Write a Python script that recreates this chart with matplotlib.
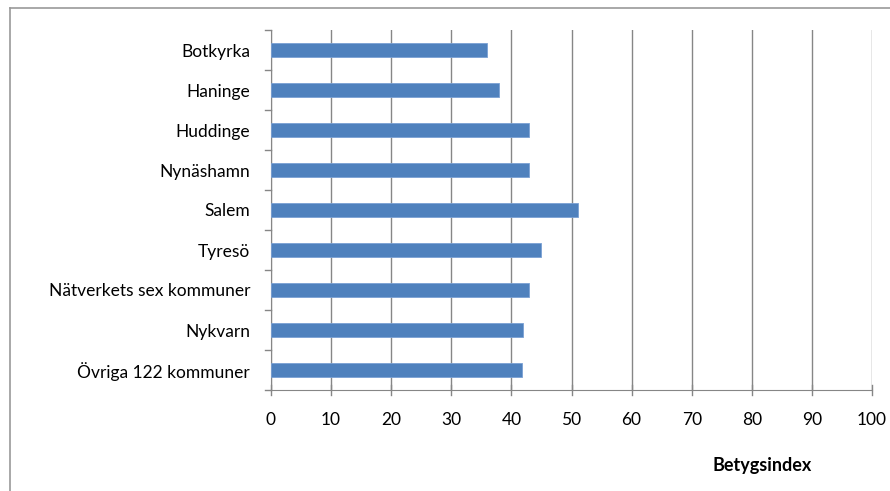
import matplotlib

matplotlib.use("Agg")
import matplotlib.pyplot as plt  # noqa: E402
from matplotlib.lines import Line2D  # noqa: E402

plt.rcParams["font.family"] = ["Lato", "DejaVu Sans"]

kommuner = [
    "Botkyrka",
    "Haninge",
    "Huddinge",
    "Nynäshamn",
    "Salem",
    "Tyresö",
    "Nätverkets sex kommuner",
    "Nykvarn",
    "Övriga 122 kommuner",
]
betyg = [36, 38, 43, 43, 51, 45, 43, 42, 41.7]
xticks = list(range(0, 101, 10))

BAR = "#4f81bd"
GRID = "#868686"

fig = plt.figure(figsize=(8.9, 4.91), dpi=100)
ax = fig.add_axes([271 / 890, 1 - 390 / 491, (872 - 271) / 890, 360 / 491])

ypos = list(range(len(kommuner)))
ax.barh(ypos, betyg, height=0.37, color=BAR, edgecolor="#7aa0d4", linewidth=0.6, zorder=3)
ax.set_ylim(len(kommuner) - 0.5, -0.5)
ax.set_xlim(0, 100)

ax.set_xticks(xticks)
ax.set_xticklabels([str(t) for t in xticks], fontsize=12.5)
ax.set_yticks(ypos)
ax.set_yticklabels(kommuner, fontsize=12.5)
ax.tick_params(axis="y", length=0, pad=15)
ax.tick_params(axis="x", length=0, pad=16)

# gridlines + x tick marks that cross the axis
ax.grid(axis="x", color=GRID, linewidth=1.0, zorder=0)
for t in xticks:
    ax.plot([t, t], [len(kommuner) - 0.5 - 0.12, len(kommuner) - 0.5 + 0.12],
            color=GRID, linewidth=1.0, clip_on=False, zorder=2)
# y tick marks at category boundaries
for b in range(len(kommuner) + 1):
    ax.plot([-1.0, 0], [b - 0.5, b - 0.5], color=GRID, linewidth=1.0, clip_on=False, zorder=2)

for side in ("top", "right"):
    ax.spines[side].set_visible(False)
ax.spines["left"].set_color(GRID)
ax.spines["bottom"].set_color(GRID)

fig.text(762 / 890, 1 - 465 / 491, "Betygsindex", fontsize=13, fontweight="bold",
         ha="center", va="center")

# chart area border (cut by image edge)
fig.add_artist(Line2D([10 / 890, 10 / 890], [0, 1 - 8 / 491], color="#999999", linewidth=1.2))
fig.add_artist(Line2D([10 / 890, 1], [1 - 8 / 491, 1 - 8 / 491], color="#999999", linewidth=1.2))

fig.savefig("out.png", dpi=100)
